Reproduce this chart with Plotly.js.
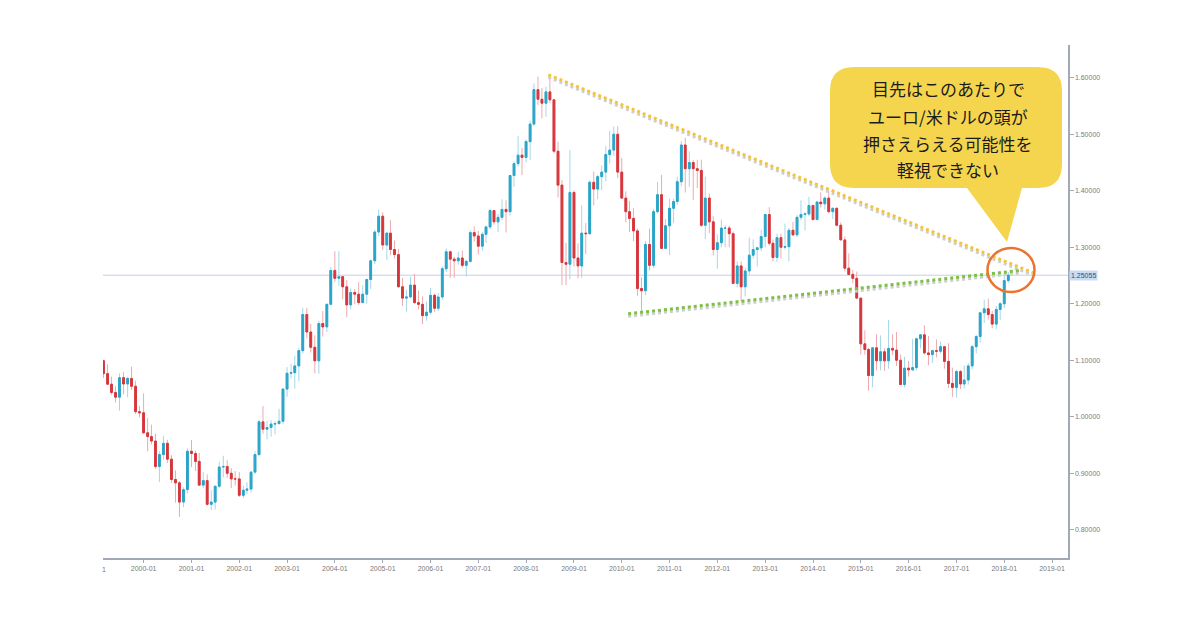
<!DOCTYPE html>
<html><head><meta charset="utf-8">
<script src="https://cdn.plot.ly/plotly-3.0.1.min.js"></script>
<style>html,body{margin:0;padding:0;background:#fff}#chart{width:1200px;height:630px}</style>
</head><body><div id="chart"></div>
<script>
// EUR/USD monthly OHLC, starting 1999-01
const startYear = 1999;
const open = [
1.1812,1.1313,1.0992,1.0763,1.0577,1.0430,1.0347,1.0692,1.0580,1.0678,1.0540,1.0090,
1.0070,0.9716,0.9649,0.9570,0.9120,0.9330,0.9530,0.9250,0.8890,0.8830,0.8490,0.8710,
0.9390,0.9350,0.9210,0.8790,0.8870,0.8450,0.8490,0.8770,0.9110,0.9120,0.9000,0.8900,
0.8900,0.8610,0.8700,0.8720,0.9020,0.9330,0.9910,0.9780,0.9810,0.9870,0.9880,0.9920,
1.0490,1.0770,1.0780,1.0900,1.1170,1.1810,1.1500,1.1230,1.0990,1.1650,1.1590,1.1990,
1.2590,1.2450,1.2480,1.2300,1.1980,1.2200,1.2170,1.2020,1.2170,1.2430,1.2760,1.3270,
1.3550,1.3040,1.3250,1.2960,1.2870,1.2300,1.2100,1.2120,1.2330,1.2020,1.1990,1.1790,
1.1850,1.2150,1.1920,1.2120,1.2620,1.2920,1.2790,1.2760,1.2810,1.2680,1.2750,1.3260,
1.3200,1.3020,1.3230,1.3360,1.3650,1.3450,1.3530,1.3670,1.3630,1.4270,1.4480,1.4630,
1.4590,1.4870,1.5180,1.5790,1.5620,1.5550,1.5750,1.5610,1.4700,1.4100,1.2730,1.2700,
1.3970,1.2810,1.2670,1.3250,1.3240,1.4150,1.4030,1.4250,1.4330,1.4640,1.4720,1.5000,
1.4330,1.3870,1.3630,1.3510,1.3290,1.2270,1.2230,1.3050,1.2680,1.3630,1.3930,1.2980,
1.3380,1.3690,1.3810,1.4160,1.4810,1.4390,1.4500,1.4390,1.4360,1.3390,1.3870,1.3450,
1.2960,1.3080,1.3340,1.3340,1.3240,1.2360,1.2670,1.2300,1.2580,1.2860,1.2960,1.2990,
1.3190,1.3580,1.3070,1.2820,1.3170,1.3000,1.3010,1.3300,1.3220,1.3530,1.3580,1.3590,
1.3740,1.3490,1.3800,1.3770,1.3870,1.3630,1.3690,1.3390,1.3130,1.2630,1.2520,1.2450,
1.2100,1.1290,1.1190,1.0730,1.1220,1.0990,1.1150,1.0990,1.1210,1.1180,1.1000,1.0570,
1.0860,1.0830,1.0870,1.1380,1.1450,1.1130,1.1100,1.1170,1.1160,1.1240,1.0980,1.0590,
1.0520,1.0800,1.0580,1.0650,1.0900,1.1240,1.1420,1.1840,1.1910,1.1810,1.1640,1.1900,
1.2000,1.2410];
const high = [
1.1904,1.1325,1.1010,1.0931,1.0707,1.0539,1.0768,1.0789,1.0705,1.0884,1.0637,1.0190,
1.0413,0.9980,0.9860,0.9700,0.9390,0.9660,0.9590,0.9320,0.9050,0.8860,0.8750,0.9440,
0.9590,0.9400,0.9360,0.9020,0.8980,0.8700,0.8780,0.9200,0.9310,0.9230,0.9090,0.9040,
0.9020,0.8780,0.8840,0.9040,0.9390,0.9950,1.0190,0.9930,0.9940,0.9920,1.0140,1.0500,
1.0880,1.0940,1.1080,1.1220,1.1930,1.1930,1.1640,1.1440,1.1700,1.1870,1.2000,1.2650,
1.2930,1.2930,1.2490,1.2420,1.2270,1.2260,1.2380,1.2330,1.2440,1.2780,1.3310,1.3670,
1.3620,1.3270,1.3480,1.3120,1.2970,1.2460,1.2250,1.2480,1.2530,1.2230,1.2130,1.2040,
1.2280,1.2180,1.2190,1.2660,1.2980,1.2940,1.2830,1.2920,1.2940,1.2780,1.3300,1.3370,
1.3290,1.3270,1.3380,1.3680,1.3650,1.3590,1.3850,1.3830,1.4280,1.4520,1.4970,1.4760,
1.4910,1.5240,1.5900,1.6020,1.5820,1.5840,1.6038,1.5620,1.4870,1.4190,1.3080,1.4720,
1.4010,1.3070,1.3740,1.3430,1.4180,1.4340,1.4280,1.4450,1.4790,1.5060,1.5140,1.5140,
1.4580,1.3990,1.3820,1.3690,1.3330,1.2470,1.3110,1.3330,1.3680,1.4160,1.4280,1.3500,
1.3860,1.3860,1.4250,1.4880,1.4940,1.4700,1.4540,1.4550,1.4550,1.4250,1.3950,1.3550,
1.3230,1.3490,1.3390,1.3380,1.3280,1.2750,1.2750,1.2640,1.3170,1.3140,1.3010,1.3310,
1.3590,1.3710,1.3140,1.3240,1.3240,1.3420,1.3340,1.3450,1.3570,1.3830,1.3620,1.3890,
1.3740,1.3820,1.3970,1.3900,1.3990,1.3700,1.3700,1.3440,1.3190,1.2890,1.2600,1.2570,
1.2100,1.1530,1.1220,1.1220,1.1460,1.1440,1.1210,1.1710,1.1460,1.1500,1.1100,1.1060,
1.0990,1.1380,1.1400,1.1460,1.1620,1.1430,1.1190,1.1370,1.1330,1.1250,1.1300,1.0870,
1.0830,1.0830,1.0910,1.0950,1.1270,1.1450,1.1850,1.2070,1.2090,1.1880,1.1960,1.2030,
1.2540,1.2560];
const low = [
1.1294,1.0880,1.0685,1.0565,1.0389,1.0253,1.0108,1.0398,1.0343,1.0473,1.0050,0.9990,
0.9700,0.9390,0.9510,0.9080,0.8844,0.9240,0.9180,0.8830,0.8480,0.8228,0.8400,0.8640,
0.9110,0.9040,0.8780,0.8740,0.8430,0.8350,0.8360,0.8740,0.8930,0.8920,0.8740,0.8780,
0.8580,0.8560,0.8630,0.8660,0.8990,0.9310,0.9700,0.9600,0.9650,0.9690,0.9860,0.9870,
1.0350,1.0680,1.0500,1.0630,1.1120,1.1390,1.1140,1.0770,1.0760,1.1420,1.1500,1.1970,
1.2390,1.2320,1.2080,1.1760,1.1900,1.1990,1.1980,1.2020,1.2000,1.2260,1.2700,1.3200,
1.2950,1.2780,1.2860,1.2800,1.2290,1.1960,1.1860,1.2100,1.2000,1.1900,1.1640,1.1700,
1.1810,1.1860,1.1870,1.2070,1.2560,1.2460,1.2460,1.2690,1.2640,1.2480,1.2730,1.3100,
1.2870,1.2940,1.3080,1.3320,1.3400,1.3270,1.3480,1.3260,1.3560,1.4070,1.4430,1.4280,
1.4500,1.4540,1.5150,1.5520,1.5280,1.5310,1.5550,1.4660,1.3880,1.2330,1.2330,1.2430,
1.2660,1.2450,1.2460,1.2880,1.3220,1.3740,1.3850,1.4010,1.4170,1.4480,1.4620,1.4220,
1.3860,1.3440,1.3270,1.3110,1.2140,1.1876,1.2150,1.2590,1.2630,1.3600,1.2970,1.2970,
1.2860,1.3430,1.3750,1.4080,1.3970,1.4070,1.3840,1.4050,1.3360,1.3140,1.3250,1.2860,
1.2620,1.3000,1.3000,1.3000,1.2350,1.2290,1.2040,1.2130,1.2510,1.2800,1.2660,1.2930,
1.3000,1.3030,1.2750,1.2740,1.2800,1.2960,1.2750,1.3200,1.3180,1.3480,1.3300,1.3550,
1.3480,1.3480,1.3700,1.3670,1.3600,1.3500,1.3370,1.3130,1.2570,1.2500,1.2360,1.2100,
1.1100,1.1100,1.0460,1.0520,1.0820,1.0820,1.0810,1.0850,1.1090,1.0900,1.0560,1.0520,
1.0710,1.0810,1.0820,1.1210,1.1100,1.0910,1.0950,1.1050,1.1120,1.0850,1.0510,1.0350,
1.0340,1.0490,1.0500,1.0570,1.0840,1.1120,1.1310,1.1660,1.1720,1.1570,1.1550,1.1710,
1.1920,1.2370];
const close = [
1.1313,1.0992,1.0763,1.0577,1.0430,1.0347,1.0692,1.0580,1.0678,1.0540,1.0090,1.0070,
0.9716,0.9649,0.9570,0.9120,0.9330,0.9530,0.9250,0.8890,0.8830,0.8490,0.8710,0.9390,
0.9350,0.9210,0.8790,0.8870,0.8450,0.8490,0.8770,0.9110,0.9120,0.9000,0.8900,0.8900,
0.8610,0.8700,0.8720,0.9020,0.9330,0.9910,0.9780,0.9810,0.9870,0.9880,0.9920,1.0490,
1.0770,1.0780,1.0900,1.1170,1.1810,1.1500,1.1230,1.0990,1.1650,1.1590,1.1990,1.2590,
1.2450,1.2480,1.2300,1.1980,1.2200,1.2170,1.2020,1.2170,1.2430,1.2760,1.3270,1.3550,
1.3040,1.3250,1.2960,1.2870,1.2300,1.2100,1.2120,1.2330,1.2020,1.1990,1.1790,1.1850,
1.2150,1.1920,1.2120,1.2620,1.2920,1.2790,1.2760,1.2810,1.2680,1.2750,1.3260,1.3200,
1.3020,1.3230,1.3360,1.3650,1.3450,1.3530,1.3670,1.3630,1.4270,1.4480,1.4630,1.4590,
1.4870,1.5180,1.5790,1.5620,1.5550,1.5750,1.5610,1.4700,1.4100,1.2730,1.2700,1.3970,
1.2810,1.2670,1.3250,1.3240,1.4150,1.4030,1.4250,1.4330,1.4640,1.4720,1.5000,1.4330,
1.3870,1.3630,1.3510,1.3290,1.2270,1.2230,1.3050,1.2680,1.3630,1.3930,1.2980,1.3380,
1.3690,1.3810,1.4160,1.4810,1.4390,1.4500,1.4390,1.4360,1.3390,1.3870,1.3450,1.2960,
1.3080,1.3340,1.3340,1.3240,1.2360,1.2670,1.2300,1.2580,1.2860,1.2960,1.2990,1.3190,
1.3580,1.3070,1.2820,1.3170,1.3000,1.3010,1.3300,1.3220,1.3530,1.3580,1.3590,1.3740,
1.3490,1.3800,1.3770,1.3870,1.3630,1.3690,1.3390,1.3130,1.2630,1.2520,1.2450,1.2100,
1.1290,1.1190,1.0730,1.1220,1.0990,1.1150,1.0990,1.1210,1.1180,1.1000,1.0570,1.0860,
1.0830,1.0870,1.1380,1.1450,1.1130,1.1100,1.1170,1.1160,1.1240,1.0980,1.0590,1.0520,
1.0800,1.0580,1.0650,1.0900,1.1240,1.1420,1.1840,1.1910,1.1810,1.1640,1.1900,1.2000,
1.2410,1.2506];

const lastPrice = 1.25055;
const yTicks = [0.8, 0.9, 1.0, 1.1, 1.2, 1.3, 1.4, 1.5, 1.6];
// resistance (yellow) and support (green) trendlines
const resistDates = ['2008-06-19', '2018-08-08'];
const resistValues = [1.6053, 1.2550];
const supportDates = ['2010-02-19', '2018-04-25'];
const supportValues = [1.1823, 1.2588];
const calloutLines = ['目先はこのあたりで', 'ユーロ/米ドルの頭が', '押さえらえる可能性を', '軽視できない'];

// month dates
const dates = close.map((_, i) => {
  const y = startYear + Math.floor(i / 12), m = (i % 12) + 1;
  return y + '-' + (m < 10 ? '0' + m : m) + '-01';
});
const bodyHigh = open.map((o, i) => Math.max(o, close[i]));
const bodyLow = open.map((o, i) => Math.min(o, close[i]));

const UP = '#2ba4c8', DOWN = '#d7363c', UP_L = '#a3d8e8', DOWN_L = '#eeaaad';

const traces = [
  {type: 'candlestick', x: dates, open: open, high: high, low: low, close: close,
   increasing: {line: {color: UP_L, width: 1}, fillcolor: UP_L},
   decreasing: {line: {color: DOWN_L, width: 1}, fillcolor: DOWN_L},
   hoverinfo: 'skip', showlegend: false},
  {type: 'candlestick', x: dates, open: open, high: bodyHigh, low: bodyLow, close: close,
   increasing: {line: {color: UP, width: 1}, fillcolor: UP},
   decreasing: {line: {color: DOWN, width: 1}, fillcolor: DOWN},
   hoverinfo: 'skip', showlegend: false},
  {type: 'scatter', mode: 'lines', x: resistDates, y: resistValues.map(v => v - 0.0045),
   line: {color: '#cfcfcf', width: 3, dash: 'dot'}, hoverinfo: 'skip', showlegend: false},
  {type: 'scatter', mode: 'lines', x: supportDates, y: supportValues.map(v => v - 0.0045),
   line: {color: '#cfcfcf', width: 3, dash: 'dot'}, hoverinfo: 'skip', showlegend: false},
  {type: 'scatter', mode: 'lines', x: resistDates, y: resistValues,
   line: {color: '#f3c43d', width: 3, dash: 'dot'}, hoverinfo: 'skip', showlegend: false},
  {type: 'scatter', mode: 'lines', x: supportDates, y: supportValues,
   line: {color: '#7cc142', width: 3, dash: 'dot'}, hoverinfo: 'skip', showlegend: false}
];

// pixel -> paper helpers (plot area: x 103..1068, y 45..558)
const L = 103, R = 1068, T = 45, B = 558;
const px = X => (X - L) / (R - L);
const py = Y => (B - Y) / (B - T);
const pt = (X, Y) => px(X).toFixed(5) + ',' + py(Y).toFixed(5);

const bx0 = 830, bx1 = 1062, by0 = 67, by1 = 188, rr = 24;
const calloutPath =
  'M' + pt(bx0 + rr, by0) + ' L' + pt(bx1 - rr, by0) + ' Q' + pt(bx1, by0) + ' ' + pt(bx1, by0 + rr) +
  ' L' + pt(bx1, by1 - rr) + ' Q' + pt(bx1, by1) + ' ' + pt(bx1 - rr, by1) +
  ' L' + pt(1022, by1) + ' L' + pt(1007, 242) + ' L' + pt(967, by1) +
  ' L' + pt(bx0 + rr, by1) + ' Q' + pt(bx0, by1) + ' ' + pt(bx0, by1 - rr) +
  ' L' + pt(bx0, by0 + rr) + ' Q' + pt(bx0, by0) + ' ' + pt(bx0 + rr, by0) + ' Z';

const lineYs = [88.5, 116, 143, 169];
const annotations = calloutLines.map((t, i) => ({
  xref: 'paper', yref: 'paper', x: px(948), y: py(lineYs[i]), text: t, showarrow: false,
  xanchor: 'center', yanchor: 'middle',
  font: {family: 'Noto Sans CJK JP', size: 17, color: '#1b1b1b'}
}));
annotations.push({
  xref: 'paper', yref: 'y', x: 1, y: lastPrice, xanchor: 'left', yanchor: 'middle', xshift: 1,
  text: lastPrice.toFixed(5), showarrow: false, bgcolor: '#cadcf4', borderpad: 1,
  font: {family: 'Liberation Sans, Arial', size: 7, color: '#3b4a66'}
});
annotations.push({
  xref: 'paper', yref: 'paper', x: px(104), y: py(569), text: '1', showarrow: false,
  xanchor: 'center', yanchor: 'middle', font: {family: 'Liberation Sans, Arial', size: 7, color: '#7a7a7a'}
});

const AX = '#a2a8b6';
const layout = {
  width: 1200, height: 630,
  margin: {l: L, r: 1200 - R, t: T, b: 630 - B, pad: 0},
  paper_bgcolor: '#ffffff', plot_bgcolor: '#ffffff',
  showlegend: false, hovermode: false, dragmode: false,
  xaxis: {
    type: 'date', range: ['1999-02-25', '2019-05-03'],
    tickformat: '%Y-%m', dtick: 'M12', tick0: '2000-01-01',
    ticks: 'outside', ticklen: 3, tickcolor: AX, tickwidth: 1,
    showline: true, linecolor: AX, linewidth: 1.5, mirror: false,
    showgrid: false, zeroline: false, rangeslider: {visible: false},
    tickfont: {family: 'Liberation Sans, Arial', size: 7, color: '#7a7a7a'}, fixedrange: true
  },
  yaxis: {
    side: 'right', range: [0.75, 1.658], tickvals: yTicks,
    ticktext: yTicks.map(v => v.toFixed(5)),
    ticks: 'outside', ticklen: 4, tickcolor: AX, tickwidth: 1,
    showline: true, linecolor: AX, linewidth: 1.5,
    showgrid: false, zeroline: false,
    tickfont: {family: 'Liberation Sans, Arial', size: 7, color: '#7a7a7a'}, fixedrange: true
  },
  shapes: [
    {type: 'line', xref: 'paper', yref: 'y', x0: 0, x1: 1, y0: lastPrice, y1: lastPrice,
     line: {color: '#c9cfe6', width: 1}, layer: 'below'},
    {type: 'path', xref: 'paper', yref: 'paper', path: calloutPath,
     fillcolor: '#f5d54d', line: {width: 0}, layer: 'above'},
    {type: 'circle', xref: 'paper', yref: 'paper',
     x0: px(987.5), x1: px(1034.5), y0: py(292), y1: py(248),
     line: {color: '#ea7530', width: 2.5}, fillcolor: 'rgba(0,0,0,0)', layer: 'above'}
  ],
  annotations: annotations
};

Plotly.newPlot('chart', traces, layout, {staticPlot: true, displayModeBar: false});
</script>
</body></html>
